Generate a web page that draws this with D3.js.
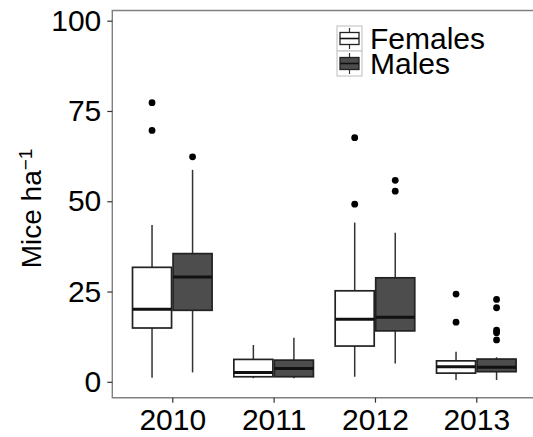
<!DOCTYPE html>
<html>
<head>
<meta charset="utf-8">
<script src="https://cdn.jsdelivr.net/npm/d3@7"></script>
<style>
  html, body { margin: 0; background: #fff; overflow: hidden; }
  svg { display: block; }
  text { font-family: "Liberation Sans", Arial, sans-serif; fill: #000; }
</style>
</head>
<body>
<script>
// data
var years = ["2010", "2011", "2012", "2013"];
var sexes = ["Females", "Males"];
var fills = ["#ffffff", "#4d4d4d"];
var yTicks = [0, 25, 50, 75, 100];

// [whisker low, Q1, median, Q3, whisker high] per year, per sex
var femaleStats = [
  [1.1, 14.9, 20.1, 31.7, 43.4],
  [1.0, 1.4, 2.6, 6.2, 10.2],
  [1.4, 9.9, 17.3, 25.2, 44.1],
  [0.5, 2.4, 4.2, 5.8, 8.3]
];
var maleStats = [
  [2.6, 19.8, 29.0, 35.5, 58.7],
  [1.0, 1.4, 3.7, 6.0, 12.2],
  [5.1, 14.1, 17.9, 28.8, 41.3],
  [0.5, 2.8, 4.0, 6.3, 6.8]
];
var femaleOutliers = [[77.3, 69.6], [], [67.6, 49.2], [24.3, 16.5]];
var maleOutliers = [[62.3], [], [55.8, 52.8], [22.8, 20.5, 14.3, 13.6, 11.6]];

function main() {
  var width = 533, height = 437;
  var svg = d3.select("body").append("svg")
    .attr("width", width)
    .attr("height", height);

  var panelLeft = 112.3, panelTop = 10.5, panelBottom = 397.7;

  var x = d3.scalePoint().domain(years).range([172.3, 476.3]);
  var step = x.step();
  var panelRight = x("2013") + 0.6 * step;
  var inner = d3.scaleBand().domain(sexes).range([-0.4 * step, 0.4 * step]);
  var y = d3.scaleLinear().domain([0, 100]).range([381.8, 20.7]);

  // panel border (right side falls outside the picture)
  svg.append("path")
    .attr("d", "M" + panelRight + "," + panelTop + "H" + panelLeft + "V" + panelBottom + "H" + panelRight)
    .attr("fill", "none").attr("stroke", "#808080").attr("stroke-width", 1.4);

  // y axis
  var yAxis = svg.append("g")
    .attr("transform", "translate(" + panelLeft + ",0)")
    .call(d3.axisLeft(y).tickValues(yTicks).tickSize(5).tickPadding(6));
  yAxis.select(".domain").remove();
  yAxis.selectAll("line").attr("stroke", "#333").attr("stroke-width", 1.2);
  yAxis.selectAll("text").style("font-size", "30px").attr("fill", "#000");

  // x axis
  var xAxis = svg.append("g")
    .attr("transform", "translate(0," + panelBottom + ")")
    .call(d3.axisBottom(x).tickSize(5).tickPadding(6));
  xAxis.select(".domain").remove();
  xAxis.selectAll("line").attr("stroke", "#333").attr("stroke-width", 1.2);
  xAxis.selectAll("text").style("font-size", "30px").attr("fill", "#000")
    .attr("dy", "0.71em");

  // y title
  var title = svg.append("text")
    .attr("transform", "translate(41," + y(48) + ") rotate(-90)")
    .attr("text-anchor", "middle")
    .style("font-size", "28px");
  title.append("tspan").text("Mice ha");
  title.append("tspan").attr("dy", "-0.5em").style("font-size", "19px").text("\u22121");

  var groups = [femaleStats, maleStats];
  var outs = [femaleOutliers, maleOutliers];
  var bw = inner.bandwidth() - 1.5;

  sexes.forEach(function(sex, si) {
    years.forEach(function(yr, yi) {
      var s = groups[si][yi];
      var cx = x(yr) + inner(sex) + inner.bandwidth() / 2;
      var g = svg.append("g");
      g.append("line")
        .attr("x1", cx).attr("x2", cx).attr("y1", y(s[0])).attr("y2", y(s[1]))
        .attr("stroke", "#333").attr("stroke-width", 1.5);
      g.append("line")
        .attr("x1", cx).attr("x2", cx).attr("y1", y(s[3])).attr("y2", y(s[4]))
        .attr("stroke", "#333").attr("stroke-width", 1.5);
      g.append("rect")
        .attr("x", cx - bw / 2).attr("width", bw)
        .attr("y", y(s[3])).attr("height", y(s[1]) - y(s[3]))
        .attr("fill", fills[si]).attr("stroke", "#222").attr("stroke-width", 1.7);
      g.append("line")
        .attr("x1", cx - bw / 2).attr("x2", cx + bw / 2)
        .attr("y1", y(s[2])).attr("y2", y(s[2]))
        .attr("stroke", "#111").attr("stroke-width", 3);
      g.selectAll("circle").data(outs[si][yi]).enter().append("circle")
        .attr("cx", cx).attr("cy", function(d) { return y(d); })
        .attr("r", 3.4).attr("fill", "#000");
    });
  });

  // legend
  var legend = svg.append("g").attr("transform", "translate(337,26)");
  var keySize = 25;
  sexes.forEach(function(sex, i) {
    var k = legend.append("g").attr("transform", "translate(0," + i * keySize + ")");
    k.append("rect").attr("width", keySize).attr("height", keySize)
      .attr("fill", "#fff").attr("stroke", "#c8c8c8").attr("stroke-width", 1.2);
    var c = keySize / 2;
    k.append("line").attr("x1", c).attr("x2", c).attr("y1", 2).attr("y2", keySize - 2)
      .attr("stroke", "#333").attr("stroke-width", 1.2);
    k.append("rect").attr("x", 3).attr("y", 6.5).attr("width", keySize - 6).attr("height", keySize - 13)
      .attr("fill", fills[i]).attr("stroke", "#222").attr("stroke-width", 1.3);
    k.append("line").attr("x1", 3).attr("x2", keySize - 3).attr("y1", c).attr("y2", c)
      .attr("stroke", "#111").attr("stroke-width", 1.6);
    k.append("text").attr("x", keySize + 8).attr("y", c).attr("dy", "0.36em")
      .style("font-size", "30px").text(sex);
  });
}
main();
</script>
</body>
</html>
